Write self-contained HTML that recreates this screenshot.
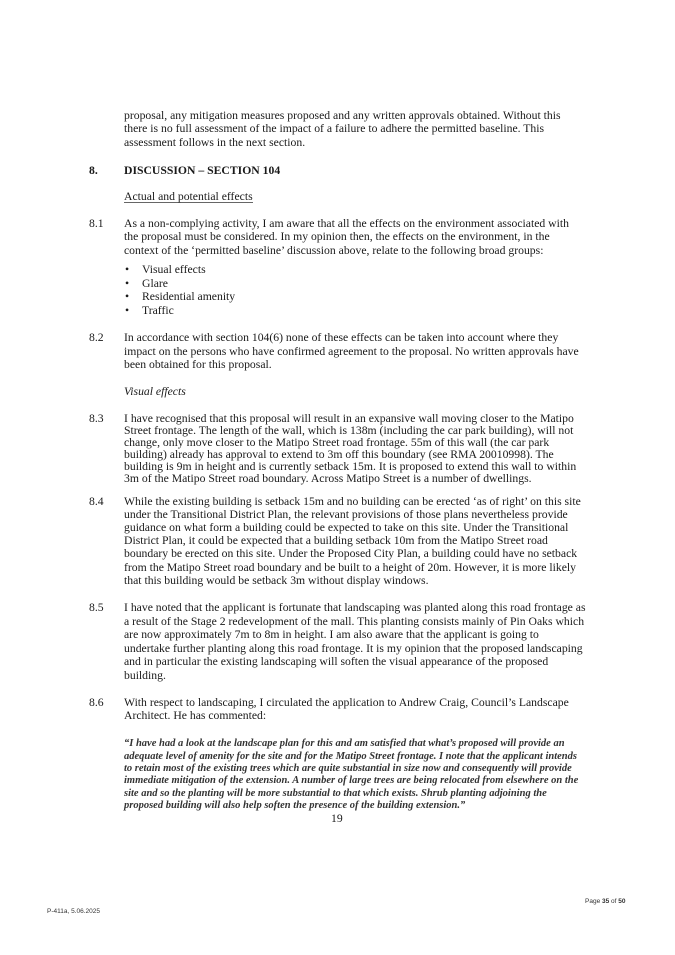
<!DOCTYPE html>
<html><head><meta charset="utf-8"><style>
html,body{margin:0;padding:0;background:#fff;}
svg{display:block;}
text{font-family:"Liberation Serif",serif;font-size:11.7px;fill:#1a1a1a;}
.q{font-style:italic;font-weight:bold;font-size:10.5px;fill:#333;}
.b{font-weight:bold;}
.s{font-family:"Liberation Sans",sans-serif;font-size:6.5px;fill:#333;}
</style></head><body>
<svg width="675" height="955" viewBox="0 0 675 955" xmlns="http://www.w3.org/2000/svg">
<rect width="675" height="955" fill="#fff"/>
<text x="124" y="119">proposal, any mitigation measures proposed and any written approvals obtained. Without this</text>
<text x="124" y="132">there is no full assessment of the impact of a failure to adhere the permitted baseline. This</text>
<text x="124" y="146">assessment follows in the next section.</text>
<text x="89" y="174" class="b">8.</text>
<text x="124" y="174" class="b">DISCUSSION – SECTION 104</text>
<text x="124" y="200">Actual and potential effects</text>
<line x1="124" y1="202.5" x2="253" y2="202.5" stroke="#333" stroke-width="0.8"/>
<text x="89" y="227">8.1</text>
<text x="124" y="227">As a non-complying activity, I am aware that all the effects on the environment associated with</text>
<text x="124" y="240">the proposal must be considered. In my opinion then, the effects on the environment, in the</text>
<text x="124" y="254">context of the ‘permitted baseline’ discussion above, relate to the following broad groups:</text>
<text x="125" y="273">•</text><text x="142" y="273">Visual effects</text>
<text x="125" y="287">•</text><text x="142" y="287">Glare</text>
<text x="125" y="300">•</text><text x="142" y="300">Residential amenity</text>
<text x="125" y="314">•</text><text x="142" y="314">Traffic</text>
<text x="89" y="341">8.2</text>
<text x="124" y="341">In accordance with section 104(6) none of these effects can be taken into account where they</text>
<text x="124" y="355">impact on the persons who have confirmed agreement to the proposal. No written approvals have</text>
<text x="124" y="368">been obtained for this proposal.</text>
<text x="124" y="395" font-style="italic">Visual effects</text>
<text x="89" y="422">8.3</text>
<text x="124" y="422">I have recognised that this proposal will result in an expansive wall moving closer to the Matipo</text>
<text x="124" y="434">Street frontage. The length of the wall, which is 138m (including the car park building), will not</text>
<text x="124" y="446">change, only move closer to the Matipo Street road frontage. 55m of this wall (the car park</text>
<text x="124" y="458">building) already has approval to extend to 3m off this boundary (see RMA 20010998). The</text>
<text x="124" y="470">building is 9m in height and is currently setback 15m. It is proposed to extend this wall to within</text>
<text x="124" y="482">3m of the Matipo Street road boundary. Across Matipo Street is a number of dwellings.</text>
<text x="89" y="505">8.4</text>
<text x="124" y="505">While the existing building is setback 15m and no building can be erected ‘as of right’ on this site</text>
<text x="124" y="518">under the Transitional District Plan, the relevant provisions of those plans nevertheless provide</text>
<text x="124" y="531">guidance on what form a building could be expected to take on this site. Under the Transitional</text>
<text x="124" y="544">District Plan, it could be expected that a building setback 10m from the Matipo Street road</text>
<text x="124" y="557">boundary be erected on this site. Under the Proposed City Plan, a building could have no setback</text>
<text x="124" y="571">from the Matipo Street road boundary and be built to a height of 20m. However, it is more likely</text>
<text x="124" y="584">that this building would be setback 3m without display windows.</text>
<text x="89" y="611">8.5</text>
<text x="124" y="611">I have noted that the applicant is fortunate that landscaping was planted along this road frontage as</text>
<text x="124" y="625">a result of the Stage 2 redevelopment of the mall. This planting consists mainly of Pin Oaks which</text>
<text x="124" y="638">are now approximately 7m to 8m in height. I am also aware that the applicant is going to</text>
<text x="124" y="652">undertake further planting along this road frontage. It is my opinion that the proposed landscaping</text>
<text x="124" y="665">and in particular the existing landscaping will soften the visual appearance of the proposed</text>
<text x="124" y="679">building.</text>
<text x="89" y="706">8.6</text>
<text x="124" y="706">With respect to landscaping, I circulated the application to Andrew Craig, Council’s Landscape</text>
<text x="124" y="719">Architect. He has commented:</text>
<text x="124" y="746" class="q">“I have had a look at the landscape plan for this and am satisfied that what’s proposed will provide  an</text>
<text x="124" y="759" class="q">adequate level of amenity for the site and  for the  Matipo Street frontage. I note that the applicant intends</text>
<text x="124" y="771" class="q">to retain most of the existing trees which are quite substantial in size now and consequently will provide</text>
<text x="124" y="783" class="q">immediate mitigation of the extension. A number of large trees are being relocated from elsewhere on the</text>
<text x="124" y="796" class="q">site and so the planting will be more substantial to that which exists. Shrub planting adjoining the</text>
<text x="124" y="808" class="q">proposed building will also help soften the presence of the building extension.”</text>
<text x="331" y="822">19</text>
<text x="585" y="903" class="s">Page <tspan font-weight="bold">35</tspan> of <tspan font-weight="bold">50</tspan></text>
<text x="47" y="913" class="s">P-411a, 5.06.2025</text>
</svg>
</body></html>
